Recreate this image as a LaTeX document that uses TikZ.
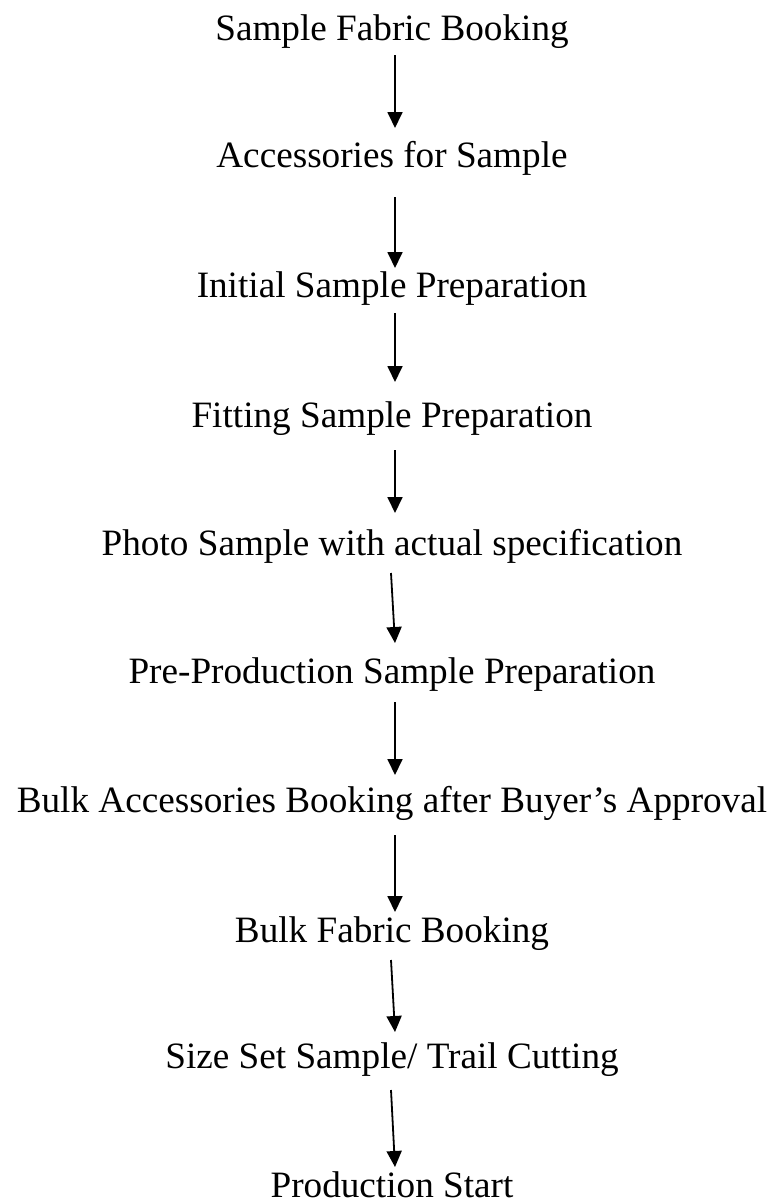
\documentclass[tikz,border=0pt]{standalone}
\usepackage{fontspec}
\setmainfont{Liberation Serif}
\usetikzlibrary{arrows.meta}

\tikzset{
  stage/.style={anchor=base, inner sep=0pt, font=\fontsize{37.2}{44}\selectfont},
  flow/.style={line width=1.8pt, -{Triangle[width=15pt,length=16pt]}}
}

\begin{document}
\begin{tikzpicture}[x=1pt,y=1pt]
  \useasboundingbox (0,0) rectangle (775,-1203);

  % process stages, top to bottom
  \node[stage] (t1)  at (392,-40)   {Sample Fabric Booking};
  \node[stage] (t2)  at (392,-167)  {Accessories for Sample};
  \node[stage] (t3)  at (392,-297)  {Initial Sample Preparation};
  \node[stage] (t4)  at (392,-427)  {Fitting Sample Preparation};
  \node[stage] (t5)  at (392,-555)  {Photo Sample with actual specification};
  \node[stage] (t6)  at (392,-683)  {Pre-Production Sample Preparation};
  \node[stage] (t7)  at (392,-812)  {Bulk Accessories Booking after Buyer’s Approval};
  \node[stage] (t8)  at (392,-942)  {Bulk Fabric Booking};
  \node[stage] (t9)  at (392,-1068) {Size Set Sample/ Trail Cutting};
  \node[stage] (t10) at (392,-1197) {Production Start};

  % arrows between consecutive stages
  \draw[flow] ([shift={(3,-15)}]t1.base) -- ([shift={(3,39)}]t2.base);
  \draw[flow] ([shift={(3,-30)}]t2.base) -- ([shift={(3,29)}]t3.base);
  \draw[flow] ([shift={(3,-16)}]t3.base) -- ([shift={(3,45)}]t4.base);
  \draw[flow] ([shift={(3,-23)}]t4.base) -- ([shift={(3,42)}]t5.base);
  \draw[flow] ([shift={(-1,-18)}]t5.base) -- ([shift={(3,40)}]t6.base);
  \draw[flow] ([shift={(3,-19)}]t6.base) -- ([shift={(3,37)}]t7.base);
  \draw[flow] ([shift={(3,-23)}]t7.base) -- ([shift={(3,30)}]t8.base);
  \draw[flow] ([shift={(-1,-18)}]t8.base) -- ([shift={(3,36)}]t9.base);
  \draw[flow] ([shift={(-1,-22)}]t9.base) -- ([shift={(3,30)}]t10.base);
\end{tikzpicture}
\end{document}
